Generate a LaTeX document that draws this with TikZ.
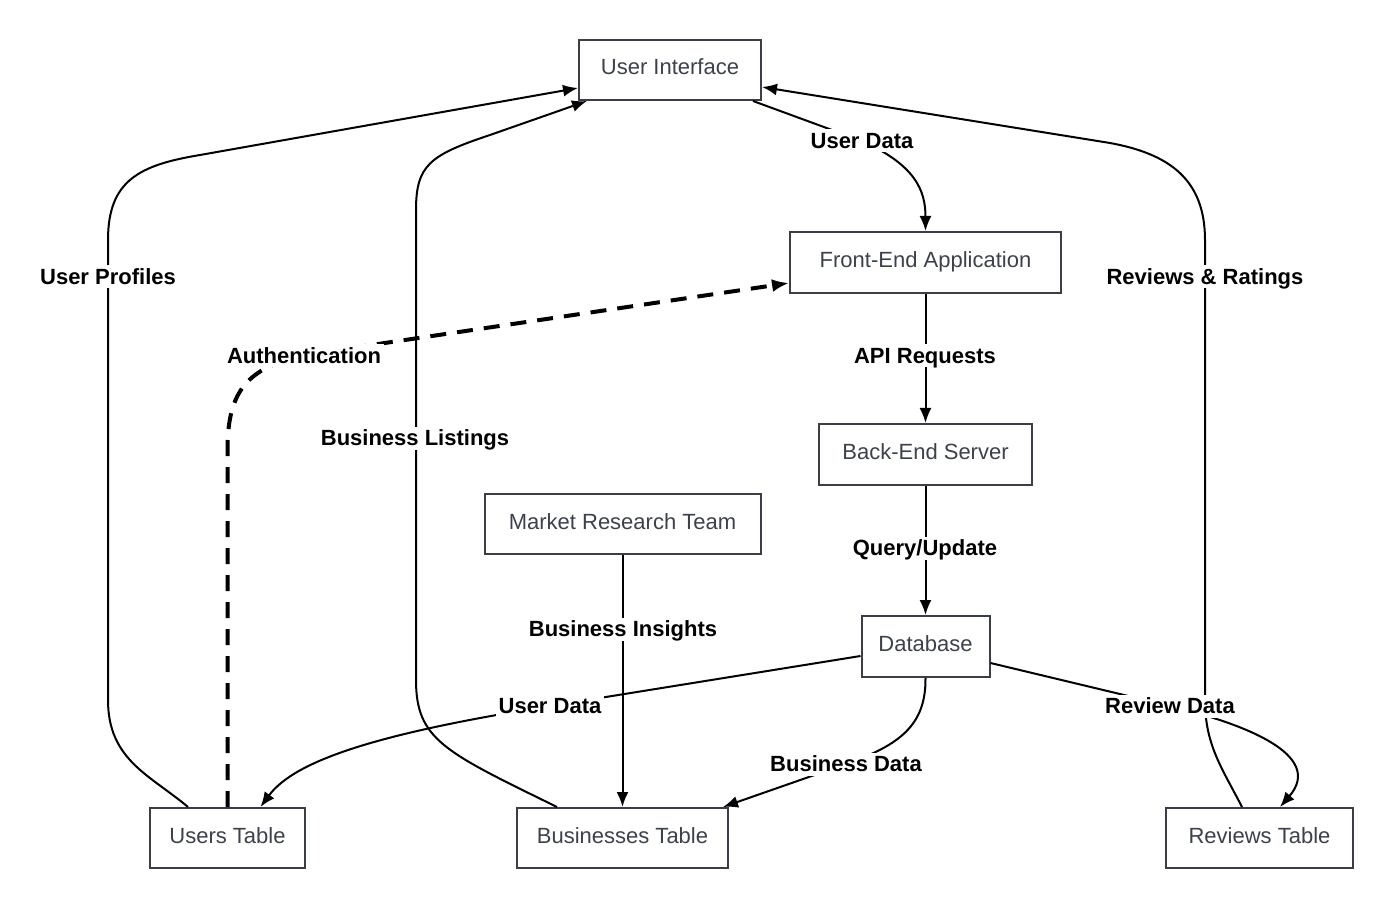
\documentclass[tikz,border=0pt]{standalone}
\usepackage{fontspec}
\setmainfont{Liberation Sans}
\usetikzlibrary{arrows.meta,calc}
\definecolor{boxc}{RGB}{58,63,71}
\definecolor{txtc}{RGB}{60,66,76}
\begin{document}
\begin{tikzpicture}[x=1pt,y=-1pt,
  box/.style={draw=boxc, line width=2pt, fill=white, text=txtc, font=\fontsize{22}{26}\selectfont, inner sep=0pt, text height=16pt, text depth=6pt, anchor=center},
  lbl/.style={fill=white, font=\bfseries\fontsize{22}{26}\selectfont, inner sep=3pt, text height=16pt, text depth=1pt, text=black},
  conn/.style={line width=2pt, -{Latex[length=15pt,width=12pt]}},
  dconn/.style={line width=4pt, dash pattern=on 16pt off 11pt, -{Latex[length=17pt,width=13pt]}},
]
\fill[white] (0,0) rectangle (1393,909);
\useasboundingbox (0,0) rectangle (1393,909);

% nodes
\node[box, minimum width=182pt, minimum height=60pt] (ui) at (670,70) {User Interface};
\node[box, minimum width=271pt, minimum height=61pt] (fe) at (925.5,262.5) {Front-End Application};
\node[box, minimum width=213pt, minimum height=61pt] (be) at (925.5,454.5) {Back-End Server};
\node[box, minimum width=276pt, minimum height=60pt] (mr) at (622.5,524) {Market Research Team};
\node[box, minimum width=128pt, minimum height=61pt] (db) at (925.5,646.5) {Database};
\node[box, minimum width=155pt, minimum height=60pt] (ut) at (227.5,838) {Users Table};
\node[box, minimum width=211pt, minimum height=60pt] (bt) at (622.5,838) {Businesses Table};
\node[box, minimum width=187pt, minimum height=60pt] (rt) at (1259.5,838) {Reviews Table};

% connectors
% User Profiles
\draw[conn] ($(ut.north)+(-39.5,0)$) .. controls (150,775) and (108,760) .. (108,700) -- (108,240) .. controls (108,180) and (140,165) .. (200,155) -- ($(ui.west)+(0,18)$);
% Business Listings
\draw[conn] ($(bt.north)+(-65.5,0)$) .. controls (445,752) and (416,740) .. (416,680) -- (416,210) .. controls (416,165) and (430,155) .. (490,135) -- ($(ui.south west)+(9,0)$);
% Reviews & Ratings
\draw[conn] ($(rt.north)+(-17.5,0)$) .. controls (1222,768) and (1205,745) .. (1205,700) -- (1205,240) .. controls (1205,180) and (1170,154) .. (1110,143) -- ($(ui.east)+(0,17)$);
% User Data (top)
\draw[conn] ($(ui.south east)+(-9,0)$) -- (862,141) .. controls (915,165) and (925.5,190) .. (fe.north);
% API Requests
\draw[conn] (fe.south) -- (be.north);
% Query/Update
\draw[conn] (be.south) -- (db.north);
% Business Insights
\draw[conn] (mr.south) -- (bt.north);
% User Data (bottom)
\draw[conn] ($(db.west)+(0,9.5)$) -- (550,706) .. controls (380,733) and (295,760) .. ($(ut.north)+(33,0)$);
% Business Data
\draw[conn] (db.south) .. controls (926,725) and (900,745) .. (846,764) -- ($(bt.north east)+(-6,0)$);
% Review Data
\draw[conn] ($(db.east)+(0,16.5)$) -- (1170,706) .. controls (1245,724) and (1325,755) .. ($(rt.north)+(20.5,0)$);
% Authentication
\draw[dconn] (ut.north) -- (227.5,450) .. controls (227.5,390) and (248,368) .. (304,355) -- ($(fe.west)+(0,20.5)$);

% labels
\node[lbl] (l1) at (108,277) {User Profiles};
\node[lbl] (l2) at (415,438) {Business Listings};
\node[lbl] (l3) at (304,356) {Authentication};
\node[lbl] (l4) at (1205,277) {Reviews \& Ratings};
\node[lbl] (l5) at (862,141) {User Data};
\node[lbl] (l6) at (925,356) {API Requests};
\node[lbl] (l7) at (925,548) {Query/Update};
\node[lbl] (l8) at (623,629) {Business Insights};
\node[lbl] (l9) at (550,706) {User Data};
\node[lbl] (l10) at (846,764) {Business Data};
\node[lbl] (l11) at (1170,706) {Review Data};
\end{tikzpicture}
\end{document}
